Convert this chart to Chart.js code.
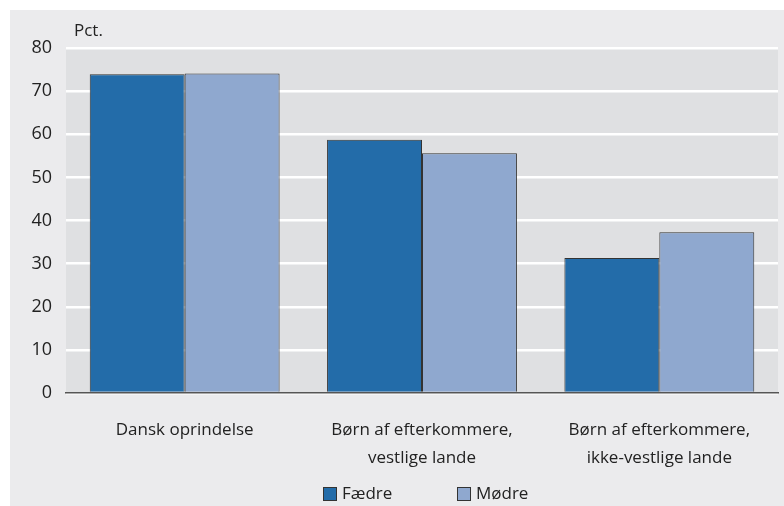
<!DOCTYPE html>
<html>
<head>
<meta charset="utf-8">
<script src="https://cdn.jsdelivr.net/npm/chart.js@4"></script>
<style>
  html, body { margin: 0; padding: 0; background: #fff; }
  #wrap { width: 784px; height: 506px; }
</style>
</head>
<body>
<div id="wrap"><canvas id="chart" width="784" height="506"></canvas></div>
<script>
// data
const categories = [
    'Dansk oprindelse',
    ['Børn af efterkommere,', 'vestlige lande'],
    ['Børn af efterkommere,', 'ikke-vestlige lande']
];
const faedre = [73.9, 58.7, 31.3];
const moedre = [74.1, 55.6, 37.3];
const yTicks = [0, 10, 20, 30, 40, 50, 60, 70, 80];

const FONT = '"Open Sans", "Noto Sans", sans-serif';

// grey panel + plot background + "Pct." label
const backgroundPlugin = {
    id: 'panelBg',
    beforeDraw(chart) {
        const ctx = chart.ctx;
        const a = chart.chartArea;
        ctx.save();
        ctx.fillStyle = '#ffffff';
        ctx.fillRect(0, 0, chart.width, chart.height);
        ctx.fillStyle = '#ebebed';
        ctx.fillRect(10, 10, chart.width - 10, chart.height - 10);
        ctx.fillStyle = '#dfe0e2';
        ctx.fillRect(a.left, a.top, a.right - a.left, a.bottom - a.top);
        ctx.fillStyle = '#222';
        ctx.font = '17px ' + FONT;
        ctx.textBaseline = 'alphabetic';
        ctx.fillText('Pct.', 74, 36);
        ctx.restore();
    }
};

// legend drawn below the axis labels
const legendPlugin = {
    id: 'bottomLegend',
    afterDraw(chart) {
        const ctx = chart.ctx;
        const xs = [323, 457];
        ctx.save();
        ctx.font = '17px ' + FONT;
        ctx.textBaseline = 'middle';
        chart.data.datasets.forEach((d, i) => {
            ctx.fillStyle = d.backgroundColor;
            ctx.fillRect(xs[i] + 0.5, 487.5, 13, 13);
            ctx.strokeStyle = '#333';
            ctx.lineWidth = 1;
            ctx.strokeRect(xs[i] + 0.5, 487.5, 13, 13);
            ctx.fillStyle = '#222';
            ctx.fillText(d.label, xs[i] + 19, 494);
        });
        ctx.restore();
    }
};

new Chart(document.getElementById('chart'), {
    type: 'bar',
    data: {
        labels: categories,
        datasets: [{
            label: 'Fædre',
            data: faedre,
            backgroundColor: '#236ca9',
            borderColor: '#333333',
            borderWidth: 1,
            categoryPercentage: 0.8,
            barPercentage: 1.0
        }, {
            label: 'Mødre',
            data: moedre,
            backgroundColor: '#8fa8cf',
            borderColor: '#333333',
            borderWidth: 1,
            categoryPercentage: 0.8,
            barPercentage: 1.0
        }]
    },
    options: {
        responsive: false,
        animation: false,
        layout: { padding: { left: 10, top: 48, right: 6, bottom: 0 } },
        plugins: {
            tooltip: { enabled: false },
            legend: { display: false }
        },
        scales: {
            x: {
                grid: { display: false },
                border: { display: true, color: '#555', width: 1.5 },
                ticks: {
                    color: '#222',
                    font: { family: FONT, size: 17, lineHeight: 1.6 },
                    padding: 16,
                    maxRotation: 0
                },
                afterFit(scale) { scale.height = 113; }
            },
            y: {
                min: 0,
                max: 80,
                afterBuildTicks(scale) { scale.ticks = yTicks.map(v => ({ value: v })); },
                grid: { color: '#ffffff', lineWidth: 2.5, drawTicks: false },
                border: { display: false },
                ticks: {
                    color: '#222',
                    font: { family: FONT, size: 18 },
                    padding: 14
                },
                afterFit(scale) { scale.width = 56; }
            }
        }
    },
    plugins: [backgroundPlugin, legendPlugin]
});
</script>
</body>
</html>
